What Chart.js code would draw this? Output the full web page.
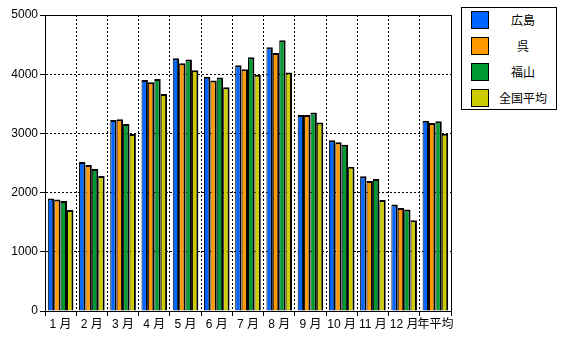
<!DOCTYPE html>
<html>
<head>
<meta charset="utf-8">
<script src="https://cdn.jsdelivr.net/npm/chart.js@4/dist/chart.umd.min.js"></script>
<style>
  body { margin: 0; background: #fff; }
  #wrap { position: relative; width: 568px; height: 341px; }
  #legend {
    position: absolute; left: 461px; top: 7px; width: 94px; height: 101px;
    border: 1px solid #000; background: #fff;
    font-family: "Noto Sans CJK JP", sans-serif; font-size: 12px;
  }
  .item { position: absolute; left: 9px; height: 18px; width: 84px; }
  .sw { position: absolute; left: 0; top: 0; width: 16px; height: 16px; border: 1px solid #000; }
  .lb { position: absolute; left: 20px; right: 0; top: 0; line-height: 18px; text-align: center; }
</style>
</head>
<body>
<div id="wrap">
  <canvas id="c" width="568" height="341"></canvas>
  <div id="legend"></div>
</div>
<script>
"use strict";
var months = ['1 月','2 月','3 月','4 月','5 月','6 月','7 月','8 月','9 月','10 月','11 月','12 月','年平均'];
var hiroshima = [1900, 2515, 3225, 3900, 4270, 3955, 4150, 4455, 3310, 2885, 2275, 1800, 3215];
var kure      = [1885, 2465, 3240, 3865, 4185, 3895, 4085, 4360, 3310, 2850, 2195, 1740, 3175];
var fukuyama  = [1860, 2400, 3160, 3920, 4250, 3945, 4285, 4575, 3355, 2810, 2230, 1715, 3205];
var zenkoku   = [1705, 2280, 2990, 3665, 4065, 3780, 3990, 4030, 3185, 2435, 1875, 1535, 2995];
var seriesNames = ['広島', '呉', '福山', '全国平均'];
var seriesColors = ['#0066ff', '#ff9900', '#009933', '#cccc00'];
var yTicks = [0, 1000, 2000, 3000, 4000, 5000];

var font = { family: '"Liberation Sans", "Noto Sans CJK JP", sans-serif', size: 12 };

var frame = {
    id: 'frame',
    afterDraw: (chart) => {
        var a = chart.chartArea, ctx = chart.ctx;
        ctx.save();
        ctx.strokeStyle = '#000';
        ctx.lineWidth = 1;
        ctx.setLineDash([]);
        ctx.beginPath();
        ctx.moveTo(Math.round(a.left) - 5 + 0.5, Math.round(a.top) + 0.5);
        ctx.lineTo(Math.round(a.right) + 0.5, Math.round(a.top) + 0.5);
        ctx.lineTo(Math.round(a.right) + 0.5, Math.round(a.bottom) + 0.5);
        ctx.stroke();
        ctx.restore();
    }
};

var data = [hiroshima, kure, fukuyama, zenkoku];

new Chart(document.getElementById('c'), {
    type: 'bar',
    plugins: [frame],
    data: {
        labels: months,
        datasets: data.map((d, i) => ({
            label: seriesNames[i],
            data: d,
            backgroundColor: seriesColors[i],
            borderColor: '#000',
            borderWidth: { top: 2, right: 2, left: 1, bottom: 0 },
            borderSkipped: false,
            categoryPercentage: 0.82,
            barPercentage: 1.0
        }))
    },
    options: {
        responsive: false,
        animation: false,
        devicePixelRatio: 1,
        layout: { padding: { top: 15, right: 117, left: 0, bottom: 0 } },
        plugins: { legend: { display: false }, tooltip: { enabled: false } },
        scales: {
            x: {
                offset: true,
                grid: {
                    offset: true, color: '#000',
                    tickLength: 5, tickColor: '#000', tickBorderDash: []
                },
                border: { color: '#000', width: 1, dash: [2, 2] },
                ticks: { color: '#000', font: font, maxRotation: 0, autoSkip: false, padding: 1 },
                afterFit: (s) => { s.height = 30; }
            },
            y: {
                min: 0, max: 5000,
                afterBuildTicks: (s) => { s.ticks = yTicks.map(v => ({ value: v })); },
                grid: {
                    color: (c) => (c.tick.value === 0 || c.tick.value === 5000) ? 'rgba(0,0,0,0)' : '#000',
                    tickLength: 5, tickColor: '#000', tickBorderDash: []
                },
                border: { color: '#000', width: 1, dash: [2, 2] },
                ticks: { color: '#000', font: font, padding: 2, callback: (v) => String(v) },
                afterFit: (s) => { s.width = 45; }
            }
        }
    }
});

var legend = document.getElementById('legend');
seriesNames.forEach((name, i) => {
    var item = document.createElement('div');
    item.className = 'item';
    item.style.top = (3 + i * 26) + 'px';
    item.innerHTML = '<div class="sw" style="background:' + seriesColors[i] + '"></div><div class="lb">' + name + '</div>';
    legend.appendChild(item);
});
</script>
</body>
</html>
